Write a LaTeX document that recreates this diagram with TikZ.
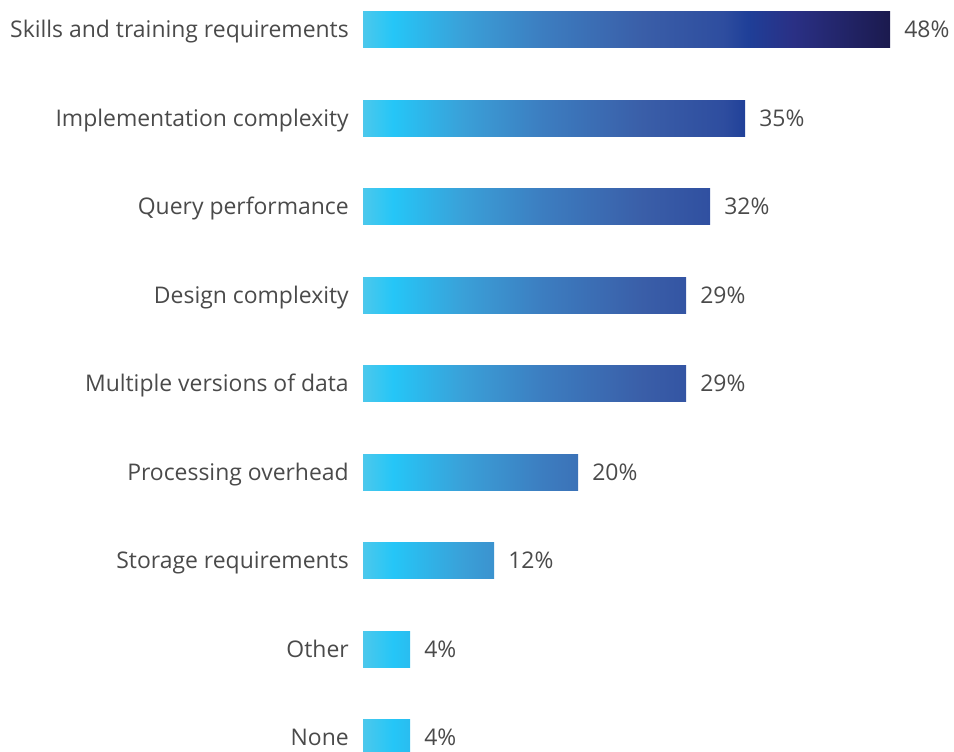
\documentclass[tikz,border=0pt]{standalone}
\usepackage{fontspec}
\setmainfont{Open Sans}
\definecolor{txt}{HTML}{4A4A4A}
\definecolor{g0}{HTML}{4CC8EC}
\definecolor{g1}{HTML}{25C6F7}
\definecolor{g2}{HTML}{3AA0D8}
\definecolor{g3}{HTML}{3C7DC0}
\definecolor{g4}{HTML}{3A5EA8}
\definecolor{g5}{HTML}{2E4D9F}
\definecolor{g6}{HTML}{1F3F98}
\definecolor{g7}{HTML}{2A3085}
\definecolor{g8}{HTML}{1B1A4E}
\pgfdeclarehorizontalshading{bargrad}{100bp}{color(0bp)=(g0); color(25bp)=(g0); color(27.85bp)=(g1); color(34.49bp)=(g2); color(42.08bp)=(g3); color(51.57bp)=(g4); color(59.16bp)=(g5); color(61.53bp)=(g6); color(65.80bp)=(g7); color(75bp)=(g8); color(100bp)=(g8)}
\tikzset{
  barbox/.style={anchor=west, minimum height=27pt, inner sep=0pt, outer sep=0pt},
  lab/.style={anchor=base east, inner sep=0pt, text=txt, font=\fontsize{17.2}{20}\selectfont},
  val/.style={anchor=base west, inner sep=0pt, text=txt, font=\fontsize{17.2}{20}\selectfont},
}
\begin{document}
\begin{tikzpicture}[x=0.75pt,y=-0.75pt]
\useasboundingbox (0,0) rectangle (954,751);
\foreach \i/\lab/\val/\w in {0/Skills and training requirements/48\%/527,
  1/Implementation complexity/35\%/382,
  2/Query performance/32\%/347,
  3/Design complexity/29\%/323,
  4/Multiple versions of data/29\%/323,
  5/Processing overhead/20\%/215,
  6/Storage requirements/12\%/131,
  7/Other/4\%/47,
  8/None/4\%/47}{
  \pgfmathsetmacro{\yc}{29.5+88.5*\i}
  \node[barbox, minimum width={\w*0.75pt}] (b\i) at (363,\yc) {};
  \begin{scope}
    \clip (b\i.south west) rectangle (b\i.north east);
    \shade[shading=bargrad] (363,\yc-18) rectangle (890,\yc+18);
  \end{scope}
  \node[lab] (l\i) at (349,\yc+8) {\lab};
  \coordinate (c\i) at ([xshift=14*0.75pt]b\i.east);
  \node[val] (v\i) at (c\i |- l\i.base) {\val};
}
\end{tikzpicture}
\end{document}
